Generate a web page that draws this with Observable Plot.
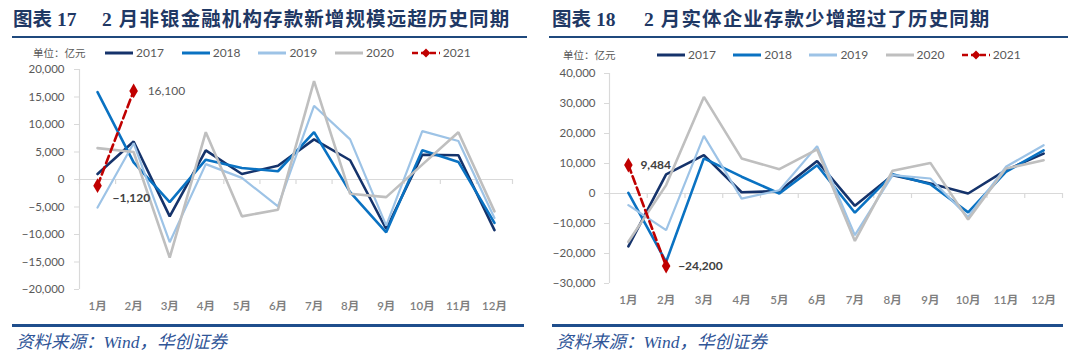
<!DOCTYPE html>
<html><head><meta charset="utf-8">
<script src="https://cdn.jsdelivr.net/npm/d3@7"></script>
<script src="https://cdn.jsdelivr.net/npm/@observablehq/plot@0.6"></script>
<style>
body{margin:0;background:#fff;}
#root{position:relative;width:1080px;height:363px;overflow:hidden;font-family:Lato,"Noto Sans CJK SC",sans-serif;}
.abs{position:absolute;white-space:nowrap;}
.title{font-family:"Liberation Serif","Noto Sans CJK SC",serif;font-weight:700;font-size:19.5px;color:#1f3864;line-height:24px;}
.t2{letter-spacing:1.1px;}
.rule{position:absolute;}
.src{font-family:"Liberation Serif","Noto Sans CJK SC",serif;font-style:italic;font-size:17.5px;color:#2f5597;line-height:22px;}
.unit{font-family:"Noto Sans CJK SC",sans-serif;font-size:10.5px;color:#595959;line-height:14px;}
.leg{font-size:12px;color:#595959;line-height:14px;display:flex;align-items:center;}
.plotwrap{position:absolute;}
</style></head>
<body><div id="root"></div>
<script>
// ---------- data ----------
const months = ["1月","2月","3月","4月","5月","6月","7月","8月","9月","10月","11月","12月"];
const years = ["2017","2018","2019","2020","2021"];
const colors = ["#15336b","#0a72c2","#9dc3e6","#bfbfbf","#c00000"];

// 图表17 非银金融机构存款新增（亿元）
const nb2017 = [1000, 6900, -6700, 5300, 1000, 2500, 7300, 3500, -9000, 4500, 4400, -9200];
const nb2018 = [15900, 3100, -4100, 3600, 2100, 1500, 8600, -2300, -9600, 5300, 3200, -7900];
const nb2019 = [-5100, 6600, -11400, 2800, 300, -4900, 13400, 7300, -8400, 8800, 7000, -7000];
const nb2020 = [5700, 5000, -14200, 8600, -6700, -5500, 17900, -2600, -3200, 2700, 8600, -5800];
const nb2021 = [-1120, 16100];

// 图表18 实体企业存款新增（亿元）
const re2017 = [-17600, 6400, 12800, 400, 800, 10800, -4100, 6100, 3300, 0, 7800, 13300];
const re2018 = [200, -22800, 11700, 5600, 0, 9400, -6400, 6400, 3100, -6300, 7200, 14400];
const re2019 = [-3900, -12200, 19200, -1700, 1100, 15800, -13900, 6100, 5000, -7800, 8900, 16100];
const re2020 = [-16100, 2800, 32200, 11700, 8100, 14700, -15800, 7600, 10200, -8700, 8300, 11100];
const re2021 = [9484, -24200];

const leftTicks = [-20000, -15000, -10000, -5000, 0, 5000, 10000, 15000, 20000];
const rightTicks = [-30000, -20000, -10000, 0, 10000, 20000, 30000, 40000];

// ---------- helpers ----------
const root = document.getElementById("root");
function el(cls, html, style){
  const d = document.createElement("div");
  d.className = cls; d.innerHTML = html;
  Object.assign(d.style, style);
  root.appendChild(d); return d;
}
const fmt = d3.format(",");
const toRows = vals => vals.map((v, i) => ({m: i + 1, v}));

function swatch(i){
  const c = colors[i];
  if (i === 4) {
    return `<svg width="28" height="10" style="margin-right:3px"><line x1="0" y1="5" x2="28" y2="5" stroke="${c}" stroke-width="2.5" stroke-dasharray="6,3"/><polygon points="14,0.5 18.5,5 14,9.5 9.5,5" fill="${c}"/></svg>`;
  }
  return `<svg width="28" height="10" style="margin-right:3px"><line x1="0" y1="5" x2="28" y2="5" stroke="${c}" stroke-width="3"/></svg>`;
}

function panel(cfg){
  // title
  el("abs title", cfg.t1, {left: cfg.t1x + "px", top: "8px"});
  el("abs title t2", cfg.t2, {left: cfg.t2x + "px", top: "8px"});
  // top underline
  el("rule", "", {left: cfg.topRule[0] + "px", width: (cfg.topRule[1] - cfg.topRule[0]) + "px", top: "36px", height: "2px", background: "#1f497d"});
  // legend
  el("abs unit", "单位：亿元", {left: cfg.unitX + "px", top: (cfg.legY - 7) + "px"});
  years.forEach((y, i) => {
    el("abs leg", swatch(i) + y, {left: (cfg.legX + i * cfg.legPitch) + "px", top: (cfg.legY - 7) + "px"});
  });
  // chart
  const wrap = el("plotwrap", "", {left: cfg.x0 + "px", top: "60px"});
  const series = cfg.series;
  const bounds = d3.range(0.5, 13, 1);
  const marks = [
    Plot.ruleY([0], {stroke: "#d9d9d9", strokeWidth: 1.2}),
    Plot.ruleX([0.5], {stroke: "#d9d9d9", strokeWidth: 1.2}),
    Plot.ruleX(bounds, {y1: 0, y2: 0, insetBottom: -5, stroke: "#d9d9d9", strokeWidth: 1.2}),
    Plot.axisY({ticks: cfg.yticks, tickFormat: fmt, tickSize: 5, tickPadding: cfg.yPad, stroke: "#d9d9d9", fill: "#595959", fontSize: 11.5, label: null}),
    Plot.axisX({ticks: d3.range(1, 13), tickFormat: i => months[i - 1], tickSize: 0, tickPadding: 12, fill: "#7f7f7f", fontSize: 11.5, fontWeight: 600, label: null})
  ];
  series.slice(0, 4).forEach((vals, i) => {
    marks.push(Plot.line(toRows(vals), {x: "m", y: "v", stroke: colors[i], strokeWidth: i === 2 ? 2.2 : 2.6, strokeLinejoin: "miter"}));
  });
  const r21 = toRows(series[4]);
  marks.push(Plot.line(r21, {x: "m", y: "v", stroke: colors[4], strokeWidth: 2.6, strokeDasharray: "8,4"}));
  marks.push(Plot.dot(r21, {x: "m", y: "v", symbol: "diamond", r: 4.5, fill: colors[4], stroke: "none"}));
  cfg.labels.forEach(lb => {
    const row = r21[lb.i];
    marks.push(Plot.text([row], {x: "m", y: "v", text: d => fmt(d.v), dx: lb.dx, dy: lb.dy, textAnchor: "start",
      fontSize: 12, fontWeight: lb.bold ? 700 : 400, fill: lb.bold ? "#404040" : "#595959"}));
  });
  const chart = Plot.plot({
    width: 540, height: 260,
    marginLeft: cfg.ml, marginRight: cfg.mr, marginTop: cfg.mt, marginBottom: cfg.mb,
    style: {background: "transparent", fontFamily: "Lato, 'Noto Sans CJK SC', sans-serif", overflow: "visible"},
    x: {domain: [0.5, 12.5]},
    y: {domain: [cfg.yticks[0], cfg.yticks[cfg.yticks.length - 1]]},
    marks
  });
  wrap.appendChild(chart);
  // bottom rule + source
  el("rule", "", {left: cfg.botRule[0] + "px", width: (cfg.botRule[1] - cfg.botRule[0]) + "px", top: "323.5px", height: "3px", background: "#1f4e8c"});
  el("abs src", "资料来源：Wind，华创证券", {left: cfg.srcX + "px", top: "331px"});
}

panel({
  x0: 0, t1: "图表 17", t2: "2 月非银金融机构存款新增规模远超历史同期", t1x: 13, t2x: 102,
  topRule: [12, 527], botRule: [12, 524],
  unitX: 33, legX: 105, legPitch: 76.7, legY: 53,
  ml: 79, mr: 28, mt: 9, mb: 31, yPad: 10, yticks: leftTicks,
  series: [nb2017, nb2018, nb2019, nb2020, nb2021],
  labels: [{i: 0, dx: 15, dy: 12, bold: true}, {i: 1, dx: 14, dy: 0, bold: false}],
  srcX: 16
});
panel({
  x0: 540, t1: "图表 18", t2: "2 月实体企业存款少增超过了历史同期", t1x: 552, t2x: 644,
  topRule: [549, 1068], botRule: [552, 1063],
  unitX: 563, legX: 657, legPitch: 76.2, legY: 55,
  ml: 69, mr: 18, mt: 13, mb: 37, yPad: 9, yticks: rightTicks,
  series: [re2017, re2018, re2019, re2020, re2021],
  labels: [{i: 0, dx: 12, dy: 0, bold: true}, {i: 1, dx: 12, dy: 0, bold: true}],
  srcX: 556
});
</script>
</body></html>
